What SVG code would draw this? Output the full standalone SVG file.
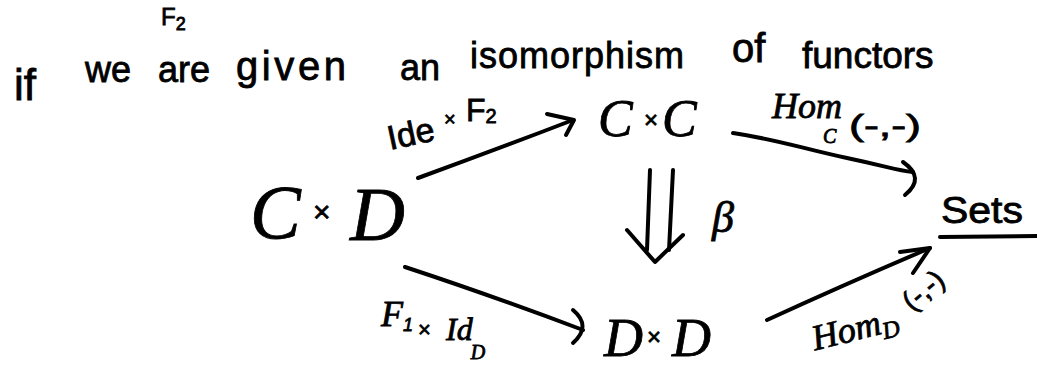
<svg xmlns="http://www.w3.org/2000/svg" width="1037" height="366" viewBox="0 0 1037 366">
<style>
.t{font-family:"Liberation Sans",Arial,sans-serif;fill:#000;stroke:#000;stroke-width:0.8}
.m{font-family:"Liberation Serif","Times New Roman",serif;font-style:italic;fill:#000;stroke:#000;stroke-width:0.8}
.ln{fill:none;stroke:#000;stroke-width:4;stroke-linecap:round;stroke-linejoin:round}
</style>
<rect width="1037" height="366" fill="#fff"/>
<g id="fragment">
<text class="t" x="161" y="25" font-size="24">F<tspan font-size="18" dy="5">2</tspan></text>
</g>
<g id="sentence" class="t" font-size="36">
<text x="14" y="100" font-size="44">if</text>
<text x="85" y="82">we</text>
<text x="158" y="82">are</text>
<text x="236" y="80" font-size="40" textLength="110" lengthAdjust="spacing">given</text>
<text x="400" y="80">an</text>
<text x="470" y="68" textLength="214" lengthAdjust="spacing">isomorphism</text>
<text x="732" y="62" font-size="40">of</text>
<text x="802" y="68" font-size="37">functors</text>
</g>
<g id="node-CxD">
<text class="m" x="250" y="238" font-size="76">C</text>
<text class="t" x="313" y="222" font-size="30">×</text>
<text class="m" x="350" y="240" font-size="76">D</text>
</g>
<g id="node-CxC">
<text class="m" x="598" y="136" font-size="52">C</text>
<text class="t" x="644" y="128" font-size="24">×</text>
<text class="m" x="662" y="136" font-size="52">C</text>
</g>
<g id="node-DxD">
<text class="m" x="604" y="356" font-size="54">D</text>
<text class="t" x="647" y="345" font-size="24">×</text>
<text class="m" x="672" y="356" font-size="54">D</text>
</g>
<g id="node-Sets">
<text class="t" x="941" y="223" font-size="36" textLength="82" lengthAdjust="spacingAndGlyphs">Sets</text>
<path class="ln" d="M940,237 L1037,236"/>
</g>
<g id="connectors">
<g id="e-top-left">
<path class="ln" d="M418,178 Q495,150 573,120"/>
<path class="ln" d="M547,114 L574,120 L566,135"/>
<g transform="rotate(-12 390 150)">
<text class="t" x="390" y="150" font-size="34">Ide</text>
</g>
<text class="t" x="444" y="126" font-size="20">×</text>
<text class="t" x="466" y="121" font-size="32">F<tspan font-size="20" dy="2">2</tspan></text>
</g>
<g id="e-top-right">
<path class="ln" d="M733,133 C780,140 800,148 847,158 S895,170 913,172"/>
<path class="ln" d="M903,162 Q926,178 905,195"/>
<text class="m" x="772" y="118" font-size="36">Hom</text>
<text class="m" x="823" y="143" font-size="20">C</text>
<text class="t" x="849" y="136" font-size="30" textLength="72" lengthAdjust="spacingAndGlyphs">(-,-)</text>
</g>
<g id="e-beta">
<path class="ln" d="M650,170 L647,250"/>
<path class="ln" d="M673,170 L669,250"/>
<path class="ln" d="M627,230 L655,262 L683,235"/>
<text class="m" x="712" y="232" font-size="44">β</text>
</g>
<g id="e-bottom-left">
<path class="ln" d="M405,267 Q490,295 583,330"/>
<path class="ln" d="M573,310 Q592,326 573,343"/>
<text class="m" x="381" y="326" font-size="36">F<tspan class="t" font-size="18" dy="5">1</tspan></text>
<text class="t" x="418" y="337" font-size="22">×</text>
<text class="m" x="446" y="340" font-size="32">Id<tspan font-size="20" dy="19" dx="-2">D</tspan></text>
</g>
<g id="e-bottom-right">
<path class="ln" d="M767,320 Q850,282 930,248"/>
<path class="ln" d="M900,252 L930,248 L913,273"/>
<g transform="rotate(-14 817 350)">
<text class="m" x="815" y="350" font-size="36">Hom<tspan font-size="24" dy="6">D</tspan></text>
</g>
<g transform="rotate(-40 912 312)">
<text class="t" x="912" y="312" font-size="28">(-,-)</text>
</g>
</g>
</g>
</svg>
